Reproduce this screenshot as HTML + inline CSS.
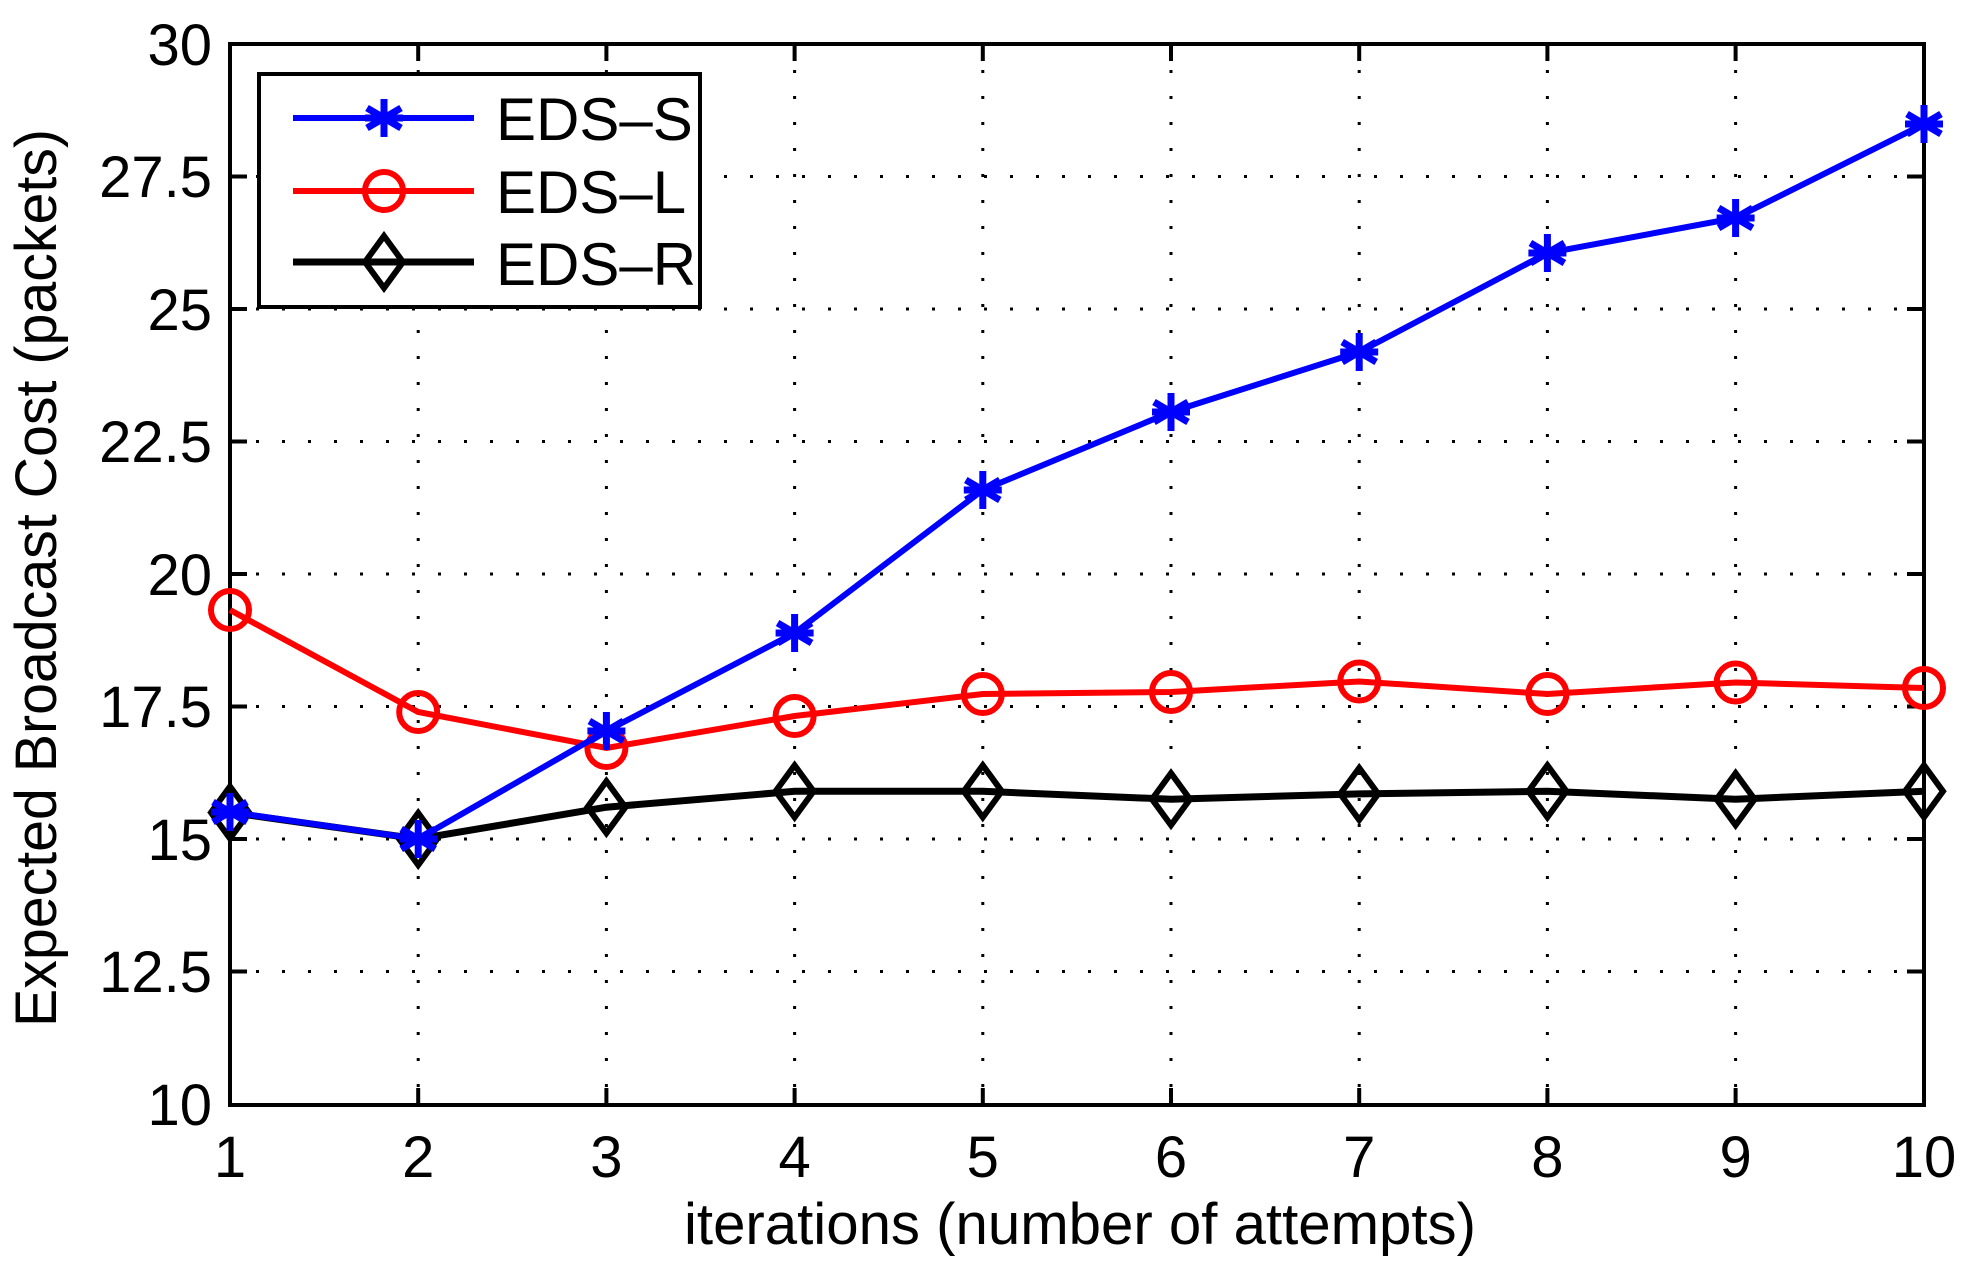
<!DOCTYPE html>
<html><head><meta charset="utf-8"><style>
html,body{margin:0;padding:0;background:#fff;}
svg{display:block;}
text{font-family:"Liberation Sans",Arial,sans-serif;fill:#000;}
</style></head><body>
<svg width="1969" height="1275" viewBox="0 0 1969 1275" xmlns="http://www.w3.org/2000/svg">
<rect width="1969" height="1275" fill="#fff"/>
<g stroke="#000" stroke-width="3" stroke-dasharray="3 23" fill="none">
<path d="M418.2 44V1105M606.4 44V1105M794.6 44V1105M982.8 44V1105M1171 44V1105M1359.2 44V1105M1547.4 44V1105M1735.6 44V1105"/>
<path d="M230 176.5H1924M230 309H1924M230 441.5H1924M230 574H1924M230 706.5H1924M230 839H1924M230 971.5H1924"/>
</g>
<g stroke="#000" stroke-width="4" fill="none">
<path d="M230 44H1924V1105H230Z"/>
<path d="M418.2 44v17M606.4 44v17M794.6 44v17M982.8 44v17M1171 44v17M1359.2 44v17M1547.4 44v17M1735.6 44v17"/>
<path d="M418.2 1105v-17M606.4 1105v-17M794.6 1105v-17M982.8 1105v-17M1171 1105v-17M1359.2 1105v-17M1547.4 1105v-17M1735.6 1105v-17"/>
<path d="M230 176.5h17M230 309h17M230 441.5h17M230 574h17M230 706.5h17M230 839h17M230 971.5h17"/>
<path d="M1924 176.5h-17M1924 309h-17M1924 441.5h-17M1924 574h-17M1924 706.5h-17M1924 839h-17M1924 971.5h-17"/>
</g>
<g font-size="58" text-anchor="end">
<text x="212" y="65">30</text>
<text x="212" y="197">27.5</text>
<text x="212" y="330">25</text>
<text x="212" y="462">22.5</text>
<text x="212" y="595">20</text>
<text x="212" y="727">17.5</text>
<text x="212" y="860">15</text>
<text x="212" y="992">12.5</text>
<text x="212" y="1125">10</text>
</g>
<g font-size="58" text-anchor="middle">
<text x="230" y="1177">1</text>
<text x="418.2" y="1177">2</text>
<text x="606.4" y="1177">3</text>
<text x="794.6" y="1177">4</text>
<text x="982.8" y="1177">5</text>
<text x="1171" y="1177">6</text>
<text x="1359.2" y="1177">7</text>
<text x="1547.4" y="1177">8</text>
<text x="1735.6" y="1177">9</text>
<text x="1924" y="1177">10</text>
<text x="1080" y="1244" textLength="792" lengthAdjust="spacingAndGlyphs">iterations (number of attempts)</text>
<text x="0" y="0" transform="translate(56,578) rotate(-90)" textLength="898" lengthAdjust="spacingAndGlyphs">Expected Broadcast Cost (packets)</text>
</g>
<defs>
<g id="st"><path d="M0-19V19M-17-10L17 10M-17 10L17-10M-19 0H19" stroke="#00f" stroke-width="7"/></g>
<g id="ci"><circle r="19" fill="none" stroke="#f00" stroke-width="6"/></g>
<g id="di"><path d="M0-26L19 0L0 26L-19 0Z" fill="none" stroke="#000" stroke-width="6"/></g>
</defs>
<polyline fill="none" stroke="#000" stroke-width="7" points="230,812.5 418.2,839 606.4,807.2 794.6,791.3 982.8,791.3 1171,799.2 1359.2,793.9 1547.4,791.3 1735.6,799.2 1924,791.3"/>
<g><use href="#di" x="230" y="812.5"/><use href="#di" x="418.2" y="839"/><use href="#di" x="606.4" y="807.2"/><use href="#di" x="794.6" y="791.3"/><use href="#di" x="982.8" y="791.3"/><use href="#di" x="1171" y="799.2"/><use href="#di" x="1359.2" y="793.9"/><use href="#di" x="1547.4" y="791.3"/><use href="#di" x="1735.6" y="799.2"/><use href="#di" x="1924" y="791.3"/></g>
<polyline fill="none" stroke="#f00" stroke-width="6" points="230,610 418.2,712 606.4,748 794.6,716 982.8,694 1171,692 1359.2,681.5 1547.4,694 1735.6,682.5 1924,688"/>
<g><use href="#ci" x="230" y="610"/><use href="#ci" x="418.2" y="712"/><use href="#ci" x="606.4" y="748"/><use href="#ci" x="794.6" y="716"/><use href="#ci" x="982.8" y="694"/><use href="#ci" x="1171" y="692"/><use href="#ci" x="1359.2" y="681.5"/><use href="#ci" x="1547.4" y="694"/><use href="#ci" x="1735.6" y="682.5"/><use href="#ci" x="1924" y="688"/></g>
<polyline fill="none" stroke="#00f" stroke-width="6" points="230,812 418.2,839 606.4,731 794.6,633 982.8,490 1171,412 1359.2,352 1547.4,253 1735.6,218 1924,124"/>
<g><use href="#st" x="230" y="812"/><use href="#st" x="418.2" y="839"/><use href="#st" x="606.4" y="731"/><use href="#st" x="794.6" y="633"/><use href="#st" x="982.8" y="490"/><use href="#st" x="1171" y="412"/><use href="#st" x="1359.2" y="352"/><use href="#st" x="1547.4" y="253"/><use href="#st" x="1735.6" y="218"/><use href="#st" x="1924" y="124"/></g>
<rect x="259" y="74" width="441" height="233" fill="#fff" stroke="#000" stroke-width="4"/>
<path d="M293 118H474" stroke="#00f" stroke-width="6"/><use href="#st" x="384" y="118"/>
<path d="M293 191H474" stroke="#f00" stroke-width="6"/><use href="#ci" x="384" y="191"/>
<path d="M293 262H474" stroke="#000" stroke-width="7"/><use href="#di" x="384" y="262"/>
<g font-size="60">
<text x="496" y="140">EDS–S</text>
<text x="496" y="213">EDS–L</text>
<text x="496" y="285">EDS–R</text>
</g>
</svg>
</body></html>
